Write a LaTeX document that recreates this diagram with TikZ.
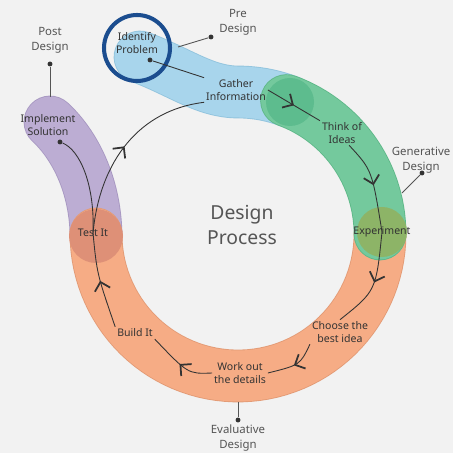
\documentclass[tikz,border=0pt]{standalone}
\usepackage{fontspec}
\setmainfont{Noto Sans}
\usetikzlibrary{arrows.meta, decorations.markings}

\definecolor{bgc}{HTML}{F2F2F2}
\definecolor{bluec}{HTML}{A8D5EC}
\definecolor{blueedge}{HTML}{92C4DE}
\definecolor{greenc}{HTML}{74C99D}
\definecolor{greenedge}{HTML}{5FB889}
\definecolor{orangec}{HTML}{F6AC85}
\definecolor{orangeedge}{HTML}{E39B76}
\definecolor{purplec}{HTML}{BCADD3}
\definecolor{purpleedge}{HTML}{A898C2}
\definecolor{greenspot}{HTML}{5DBC8E}
\definecolor{expspot}{HTML}{8DB467}
\definecolor{testspot}{HTML}{DE9077}
\definecolor{ringc}{HTML}{1B4D8F}
\definecolor{inkc}{HTML}{333333}
\definecolor{notec}{HTML}{555555}

\tikzset{
  band/.style={line width=0.5pt, double distance=29pt, line cap=round, line join=round},
  stage/.style={font=\fontsize{6}{7}\selectfont, text=inkc, align=center, inner sep=1pt},
  note/.style={font=\fontsize{6.5}{8.5}\selectfont, text=notec, align=center},
  maintext/.style={font=\fontsize{11}{14}\selectfont, text=notec, align=center},
  dot/.style={circle, fill=inkc, inner sep=0pt, minimum size=2.8pt},
  link/.style={inkc, line width=0.5pt},
  tick/.style={notec, line width=0.5pt},
  flow/.style={link, postaction={decorate},
    decoration={markings, mark=at position 0.5 with {\arrow{Straight Barb[length=4.5pt, width=9pt, line width=1pt]}}}}
}

\begin{document}
\begin{tikzpicture}[x=0.02cm, y=0.02cm]
\useasboundingbox (0,0) rectangle (453,453);
\clip (0,0) rectangle (453,453);
\fill[bgc] (0,0) rectangle (453,453);

% bands
\draw[band, draw=purpleedge, double=purplec] (96,219) .. controls (95,268) and (75,308) .. (50,331);
\draw[band, draw=orangeedge, double=orangec] plot[domain=-180:0, samples=60] ({238+142*cos(\x)}, {219+142*sin(\x)});
\draw[band, draw=blueedge, double=bluec] plot[domain=68:90, samples=12] ({238+142*cos(\x)}, {219+142*sin(\x)}) .. controls (205,361) and (180,381) .. (140,396);
\draw[band, draw=greenedge, double=greenc] plot[domain=0:70, samples=30] ({238+142*cos(\x)}, {219+142*sin(\x)});

% spots
\fill[greenspot] (290,351) circle[radius=24];
\fill[expspot] (382,221) circle[radius=25];
\fill[testspot] (96,217) circle[radius=27];
\draw[ringc, line width=2.3pt] (137,405) circle[radius=33];

% stages
\node[stage] (idp) at (137,410) {Identify\\Problem};
\node[dot] (idpdot) at (150,393) {};
\node[stage] (gat) at (236,363) {Gather\\Information};
\node[stage] (thk) at (342,320) {Think of\\Ideas};
\node[stage] (exp) at (382,221) {Experiment};
\node[stage] (cho) at (340,121) {Choose the\\best idea};
\node[stage] (wrk) at (240,80) {Work out\\the details};
\node[stage] (bld) at (135,120) {Build It};
\node[stage] (tst) at (93,220) {Test It};
\node[stage] (imp) at (48,328) {Implement\\Solution};
\node[dot] (impdot) at (60,311) {};

\node[maintext] (dsg) at (242,228) {Design\\Process};

% flow
\draw[link] (idpdot) -- (gat.north west);
\draw[flow] (gat.east) -- (thk.north west);
\draw[flow] (thk.-60) .. controls (372,283) .. (exp.center);
\draw[flow] (exp.center) .. controls (376,162) .. (cho.north);
\draw[flow] (cho.south west) .. controls (300,88) .. (wrk.east);
\draw[flow] (wrk.west) .. controls (188,79) .. (bld.south east);
\draw[flow] (bld.north west) .. controls (97,179) .. (tst.center);
\draw[link] (tst.center) .. controls (95,268) and (80,303) .. (impdot);
\draw[flow] (tst.center) .. controls (100,293) and (140,343) .. (gat.south west);

% phases
\node[note] (pre) at (238,431) {Pre\\Design};
\node[dot] (predot) at (211,416) {};
\coordinate (preend) at (178,406);
\draw[tick] (predot) -- (preend);

\node[note] (post) at (50,413) {Post\\Design};
\node[dot] (postdot) at (50,389) {};
\coordinate (postend) at (50,356);
\draw[tick] (postdot) -- (postend);

\node[note] (gen) at (421,293) {Generative\\Design};
\node[dot] (gendot) at (422,280) {};
\coordinate (genend) at (402,260);
\draw[tick] (gendot) -- (genend);

\node[note] (eval) at (238,15) {Evaluative\\Design};
\node[dot] (evaldot) at (238,33) {};
\coordinate (evalend) at (238,51);
\draw[tick] (evaldot) -- (evalend);
\end{tikzpicture}
\end{document}
